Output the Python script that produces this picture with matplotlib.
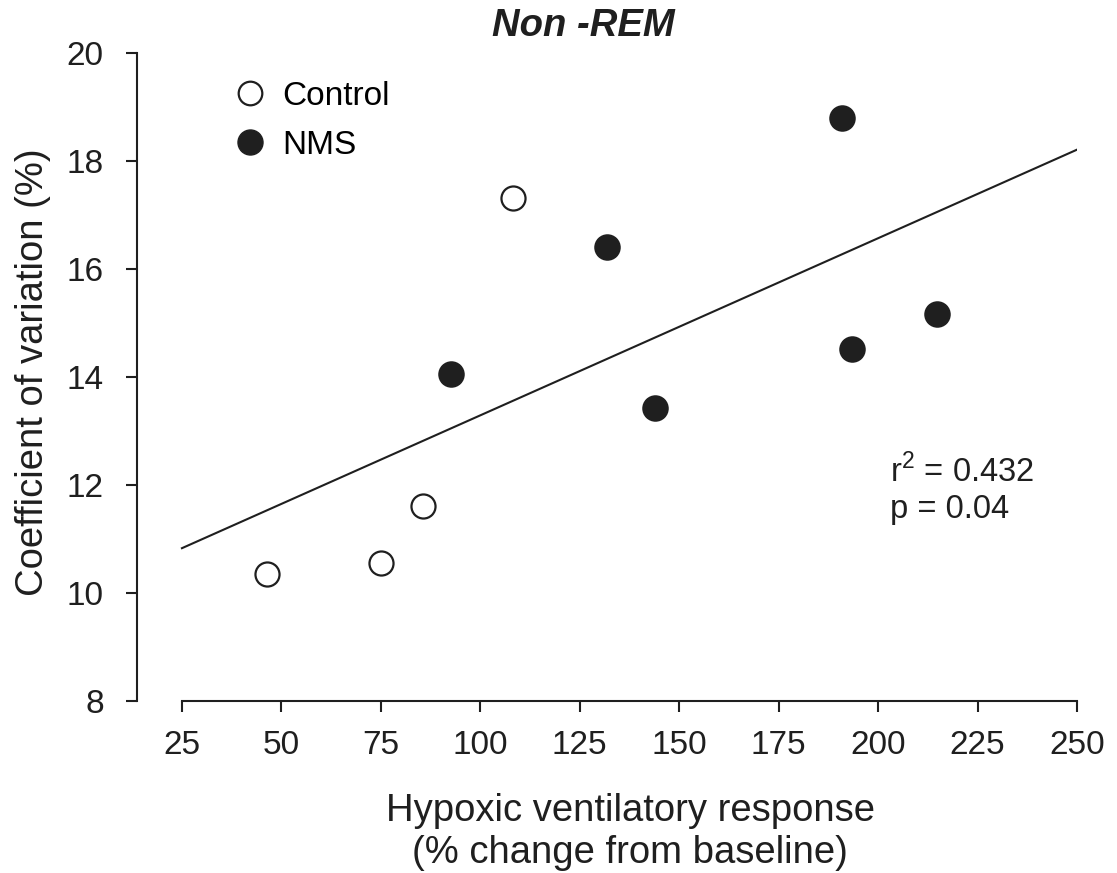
import matplotlib
matplotlib.use('Agg')
import matplotlib.pyplot as plt
from matplotlib.lines import Line2D

plt.rcParams['font.family'] = ['Liberation Sans', 'DejaVu Sans']
plt.rcParams['mathtext.fontset'] = 'custom'
plt.rcParams['mathtext.rm'] = 'Liberation Sans'

# data
control_x = [46.5, 75.0, 85.5, 108.2]
control_y = [10.35, 10.55, 11.61, 17.31]
nms_x = [92.6, 131.9, 143.9, 190.9, 193.5, 214.7]
nms_y = [14.06, 16.41, 13.43, 18.79, 14.52, 15.16]
fit_x = [25, 250]
fit_y = [10.83, 18.21]
x_ticks = [25, 50, 75, 100, 125, 150, 175, 200, 225, 250]
y_ticks = [8, 10, 12, 14, 16, 18, 20]

ink = '#1f1f1f'

fig = plt.figure(figsize=(11.17, 8.73), dpi=100)
ax = fig.add_axes([137/1117, 1-701/873, (1077-137)/1117, (701-53)/873])

ax.plot(fit_x, fit_y, color=ink, lw=1.5, zorder=2)
ax.scatter(control_x, control_y, s=300, facecolor='white', edgecolor=ink, lw=1.6, zorder=3)
ax.scatter(nms_x, nms_y, s=320, facecolor=ink, edgecolor=ink, lw=1.2, zorder=3)

ax.set_xlim(13.7, 250)
ax.set_ylim(8, 20)
ax.set_xticks(x_ticks)
ax.set_yticks(y_ticks)
for pos in ['top', 'right']:
    ax.spines[pos].set_visible(False)
ax.spines['bottom'].set_bounds(25, 250)
for pos in ['left', 'bottom']:
    ax.spines[pos].set_linewidth(1.5)
    ax.spines[pos].set_color(ink)
ax.tick_params(axis='both', length=8, width=1.5, color=ink, labelsize=24, labelcolor=ink)
ax.tick_params(axis='x', pad=13)
ax.tick_params(axis='y', pad=16)

ax.set_ylabel('Coefficient of variation (%)', fontsize=27.5, color=ink)
ax.yaxis.set_label_coords(-0.092, (701-372)/648)
ax.set_xlabel('Hypoxic ventilatory response\n(% change from baseline)', fontsize=27.5,
              color=ink, linespacing=1.2)
ax.xaxis.set_label_coords((630-137)/940, -(793-701)/648)

fig.text(583/1117, 1-26/873, 'Non -REM', fontsize=27.5, fontweight='bold', fontstyle='italic',
         ha='center', va='center', color=ink)

ax.text(203, 12.25, 'r$^2$ = 0.432', fontsize=23.5, color=ink, va='center', ha='left')
ax.text(203, 11.55, 'p = 0.04', fontsize=23.5, color=ink, va='center', ha='left')

handles = [
    Line2D([], [], ls='none', marker='o', ms=17, mfc='white', mec=ink, mew=1.6),
    Line2D([], [], ls='none', marker='o', ms=18, mfc=ink, mec=ink),
]
ax.legend(handles, ['Control', 'NMS'], loc='upper left', bbox_to_anchor=(0.085, 0.978),
          frameon=False, fontsize=24, handletextpad=0.35, labelspacing=0.55,
          borderaxespad=0, handlelength=1.2)

fig.savefig('out.png', dpi=100)
